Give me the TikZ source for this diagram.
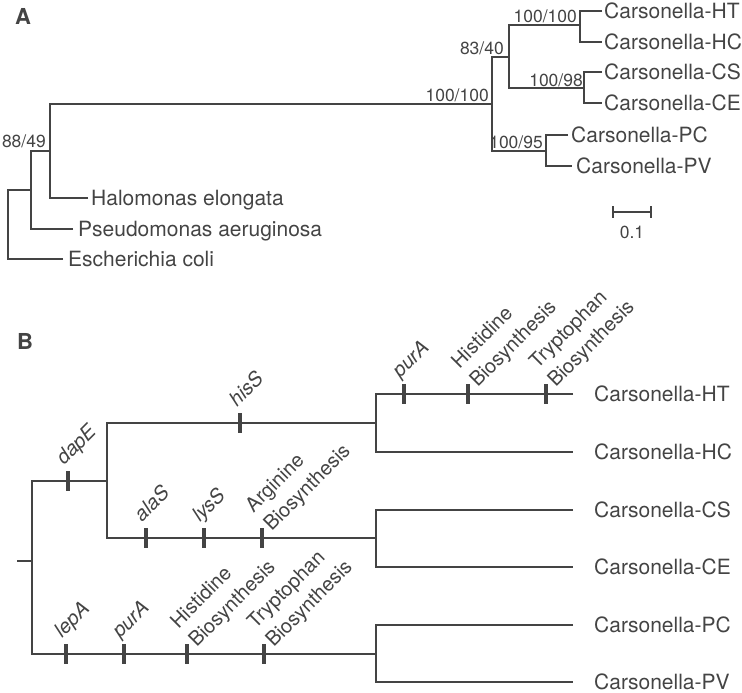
\documentclass[tikz,border=0pt]{standalone}
\usepackage{fontspec}
\setmainfont{TeX Gyre Heros}
\definecolor{ink}{RGB}{68,68,68}
\begin{document}
\begin{tikzpicture}[x=1pt,y=-1pt,
  br/.style={draw=ink, line width=2.7pt},
  tk/.style={draw=ink, line width=4pt},
  lab/.style={text=ink, font=\fontsize{21}{24}\selectfont, inner sep=0pt, anchor=west, text height=15pt, text depth=0pt},
  bs/.style={text=ink, font=\fontsize{17.5}{20}\selectfont, inner sep=0pt, anchor=base east},
  gl/.style={text=ink, font=\fontsize{20}{24}\selectfont\itshape, inner sep=0pt, anchor=base west, rotate=45},
  pl/.style={text=ink, font=\fontsize{20}{26}\selectfont, inner sep=0pt, anchor=south west, rotate=45, align=left},
  pan/.style={text=ink, font=\fontsize{22}{24}\selectfont\bfseries, inner sep=0pt}]
\useasboundingbox (0,0) rectangle (742,693);

% ---------- Panel A ----------
\node[pan] (pA) at (23,16) {A};
\coordinate (A0) at (8,224);
\coordinate (EC) at (63,259);
\coordinate (N1) at (31,190);
\coordinate (PA) at (73,229);
\coordinate (N2) at (50,151);
\coordinate (HE) at (88,198);
\coordinate (N3) at (492,104);
\coordinate (N4) at (509,57);
\coordinate (N7) at (546,151);
\coordinate (N5) at (580,25);
\coordinate (N6) at (584,88);
\coordinate (aHT) at (602,11);
\coordinate (aHC) at (602,42);
\coordinate (aCS) at (602,72);
\coordinate (aCE) at (602,103);
\coordinate (aPC) at (568,135);
\coordinate (aPV) at (572,166);

\draw[br] (EC) -| (A0 |- N1) -- (N1);
\draw[br] (PA) -| (N1 |- N2) -- (N2);
\draw[br] (HE) -| (N2 |- N3) -- (N3);
\draw[br] (N4) -| (N3 |- N7) -- (N7);
\draw[br] (N5) -| (N4 |- N6) -- (N6);
\draw[br] (aHT) -| (N5 |- aHC) -- (aHC);
\draw[br] (aCS) -| (N6 |- aCE) -- (aCE);
\draw[br] (aPC) -| (N7 |- aPV) -- (aPV);

\node[lab] (tEC) at ([xshift=5pt]EC) {Escherichia coli};
\node[lab] (tPA) at ([xshift=5pt]PA) {Pseudomonas aeruginosa};
\node[lab] (tHE) at ([xshift=3pt]HE) {Halomonas elongata};
\node[lab] (tHT) at ([xshift=2pt]aHT) {Carsonella-HT};
\node[lab] (tHC) at ([xshift=2pt]aHC) {Carsonella-HC};
\node[lab] (tCS) at ([xshift=2pt]aCS) {Carsonella-CS};
\node[lab] (tCE) at ([xshift=2pt]aCE) {Carsonella-CE};
\node[lab] (tPC) at ([xshift=3pt]aPC) {Carsonella-PC};
\node[lab] (tPV) at ([xshift=4pt]aPV) {Carsonella-PV};

\node[bs] (b2) at ([shift={(-4,-4)}]N2) {88/49};
\node[bs] (b3) at ([shift={(-3,-2)}]N3) {100/100};
\node[bs] (b4) at ([shift={(-5,-2)}]N4) {83/40};
\node[bs] (b5) at ([shift={(-3,-2)}]N5) {100/100};
\node[bs] (b6) at ([shift={(-1,-2)}]N6) {100/98};
\node[bs] (b7) at ([shift={(-3,-3)}]N7) {100/95};

\coordinate (S1) at (613,212);
\coordinate (S2) at (651,212);
\draw[br] (S1) -- (S2);
\draw[br] ([shift={(0,-6)}]S1) -- ([shift={(0,6)}]S1);
\draw[br] ([shift={(0,-6)}]S2) -- ([shift={(0,6)}]S2);
\node[bs, anchor=center] (sc) at (632,232) {0.1};

% ---------- Panel B ----------
\node[pan] (pB) at (25,341) {B};
\coordinate (R0) at (17,561);
\coordinate (BR) at (32,561);
\coordinate (BT) at (107,481);
\coordinate (BB) at (376,654);
\coordinate (BU) at (376,423);
\coordinate (BM) at (376,538);
\coordinate (bHT) at (573,394);
\coordinate (bHC) at (573,452);
\coordinate (bCS) at (573,510);
\coordinate (bCE) at (573,567);
\coordinate (bPC) at (573,625);
\coordinate (bPV) at (573,682);

\draw[br] (R0) -- (BR);
\draw[br] (BT) -| (BR |- BB) -- (BB);
\draw[br] (BR |- BT) -- (BT);
\draw[br] (BU) -| (BT |- BM) -- (BM);
\draw[br] (bHT) -| (BU |- bHC) -- (bHC);
\draw[br] (bCS) -| (BM |- bCE) -- (bCE);
\draw[br] (bPC) -| (BB |- bPV) -- (bPV);

\node[lab] (uHT) at ([xshift=21pt]bHT) {Carsonella-HT};
\node[lab] (uHC) at ([xshift=21pt]bHC) {Carsonella-HC};
\node[lab] (uCS) at ([xshift=21pt]bCS) {Carsonella-CS};
\node[lab] (uCE) at ([xshift=21pt]bCE) {Carsonella-CE};
\node[lab] (uPC) at ([xshift=21pt]bPC) {Carsonella-PC};
\node[lab] (uPV) at ([xshift=21pt]bPV) {Carsonella-PV};

% ticks
\foreach \n/\x/\y in {k1/68/481, k2/240/423, k3/146/538, k4/204/538, k5/262/538,
  k6/66/654, k7/124/654, k8/187/654, k9/264/654, k10/404/394, k11/468/394, k12/546/394}{
  \coordinate (\n) at (\x,\y);
  \draw[tk] ([shift={(0,-10)}]\n) -- ([shift={(0,10)}]\n);
}

\node[gl] (g1) at ([shift={(-4,-15)}]k1) {dapE};
\node[gl] (g2) at ([shift={(-3,-15)}]k2) {hisS};
\node[gl] (g3) at ([shift={(-4,-15)}]k3) {alaS};
\node[gl] (g4) at ([shift={(-4,-15)}]k4) {lysS};
\node[pl] (g5) at ([shift={(13,-3)}]k5) {Arginine\\Biosynthesis};
\node[gl] (g6) at ([shift={(-4,-15)}]k6) {lepA};
\node[gl] (g7) at ([shift={(-4,-15)}]k7) {purA};
\node[pl] (g8) at ([shift={(13,-3)}]k8) {Histidine\\Biosynthesis};
\node[pl] (g9) at ([shift={(13,-3)}]k9) {Tryptophan\\Biosynthesis};
\node[gl] (g10) at ([shift={(-4,-15)}]k10) {purA};
\node[pl] (g11) at ([shift={(13,-3)}]k11) {Histidine\\Biosynthesis};
\node[pl] (g12) at ([shift={(13,-3)}]k12) {Tryptophan\\Biosynthesis};
\end{tikzpicture}
\end{document}
